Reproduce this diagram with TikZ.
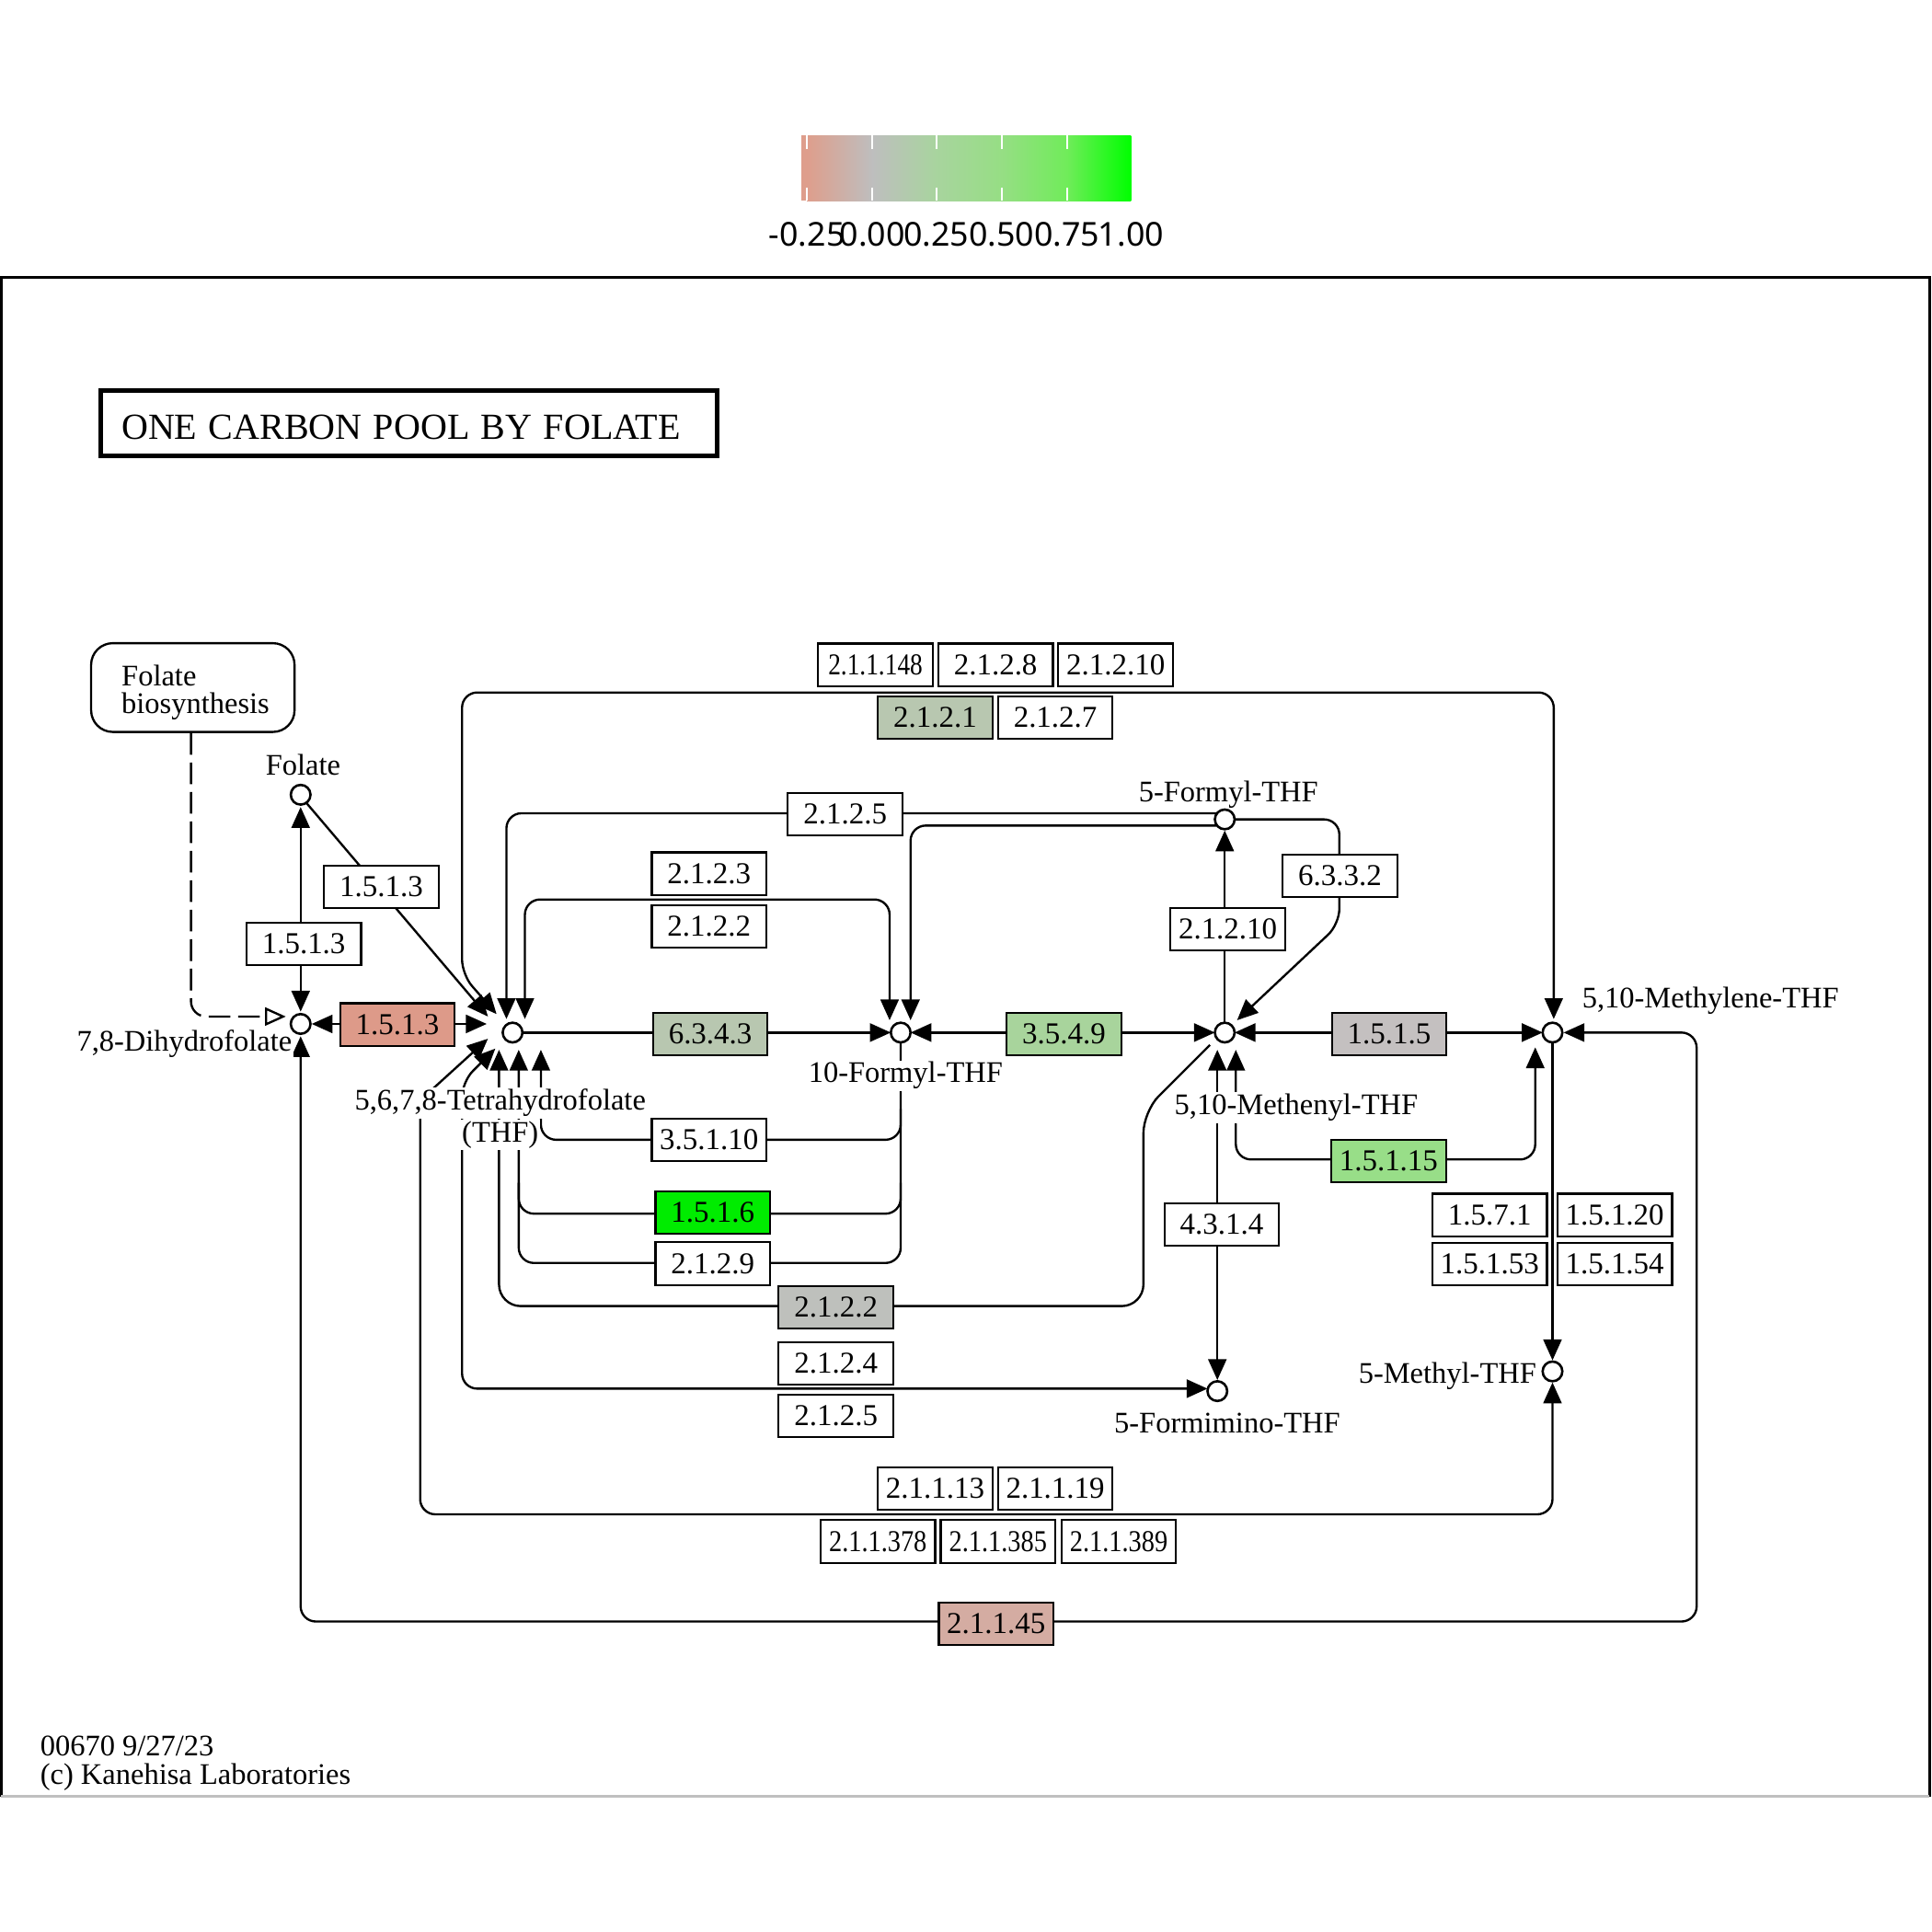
\documentclass[tikz,border=0pt]{standalone}
\usepackage{fontspec}
\setmainfont{Liberation Serif}
\newfontfamily\barfont{Noto Sans}
\usepackage{graphicx}
\usetikzlibrary{arrows.meta,calc}
\definecolor{csal}{RGB}{221,154,137}
\definecolor{cpink}{RGB}{212,172,162}
\definecolor{cgg}{RGB}{184,199,176}
\definecolor{clg}{RGB}{168,212,156}
\definecolor{cgray}{RGB}{196,192,192}
\definecolor{cgray2}{RGB}{190,192,188}
\definecolor{cl15}{RGB}{152,222,136}
\definecolor{cbright}{RGB}{0,236,0}
\definecolor{cbsal}{RGB}{222,158,140}
\definecolor{cbgray}{RGB}{190,190,190}
\definecolor{cbg1}{RGB}{168,212,158}
\definecolor{cbg2}{RGB}{150,222,132}
\definecolor{cbg3}{RGB}{112,236,90}
\definecolor{cbg4}{RGB}{0,255,0}
\newcommand\lblfont{\fontsize{6.9pt}{7.6pt}\selectfont}
\newcommand\enzfont{\fontsize{7pt}{8pt}\selectfont}
\newcommand\footfont{\fontsize{6.9pt}{6.5pt}\selectfont}
\newcommand\titlefont{\fontsize{8.5pt}{10pt}\selectfont}
\newcommand\barfnt{\barfont\fontsize{7.6pt}{9pt}\selectfont}
\begin{document}
\begin{tikzpicture}[x=0.01cm,y=-0.01cm,
  ln/.style={line width=0.5pt},
  arr/.style={ln,-{Triangle[length=4.8pt,width=4.2pt]}},
  barr/.style={ln,{Triangle[length=4.8pt,width=4.2pt]}-{Triangle[length=4.8pt,width=4.2pt]}},
  rc/.style={rounded corners=3.5pt},
  enz/.style={draw,line width=0.45pt,fill=white,minimum width=0.93cm,minimum height=0.345cm,inner sep=0pt,font=\enzfont},
  cpd/.style={circle,draw,line width=0.55pt,fill=white,minimum size=0.16cm,inner sep=0pt},
  lbl/.style={font=\lblfont,fill=white,inner sep=0.4pt},
  dsh/.style={line width=0.5pt,dash pattern=on 5pt off 1.8pt}]
\useasboundingbox (0,0) rectangle (1568,1568);

% ---------- colour bar ----------
\fill[cbsal] (650,110) rectangle (655,163);
\shade[left color=cbsal,right color=cbgray] (655,110) rectangle (708,163);
\shade[left color=cbgray,right color=cbg1] (708,110) rectangle (760,163);
\shade[left color=cbg1,right color=cbg2] (760,110) rectangle (813,163);
\shade[left color=cbg2,right color=cbg3] (813,110) rectangle (866,163);
\shade[left color=cbg3,right color=cbg4] (866,110) rectangle (918,163);
\foreach \x in {655,708,760,813,866} {
  \draw[white,line width=0.5pt] (\x,110) -- (\x,121);
  \draw[white,line width=0.5pt] (\x,152) -- (\x,163);
}
\node[font=\barfnt,inner sep=0pt] (b1) at (655,190) {-0.25};
\node[font=\barfnt,inner sep=0pt] (b2) at (708,190) {0.00};
\node[font=\barfnt,inner sep=0pt] (b3) at (760,190) {0.25};
\node[font=\barfnt,inner sep=0pt] (b4) at (813,190) {0.50};
\node[font=\barfnt,inner sep=0pt] (b5) at (866,190) {0.75};
\node[font=\barfnt,inner sep=0pt] (b6) at (918,190) {1.00};

% ---------- frame ----------
\draw[line width=0.6pt] (1,1458) -- (1,225) -- (1566,225) -- (1566,1458);
\draw[black!25,line width=0.6pt] (1,1458) -- (1566,1458);

% ---------- title ----------
\node[draw,line width=1pt,minimum width=5cm,minimum height=0.53cm,inner sep=0pt] (title) at (332,343.5) {};
\node[font=\titlefont,anchor=west,inner sep=0pt] (ttxt) at (98,347) {ONE\hspace{0.5pt} CARBON\hspace{0.5pt} POOL\hspace{0.5pt} BY\hspace{0.5pt} FOLATE};

% ---------- folate biosynthesis ----------
\node[draw,line width=0.5pt,rounded corners=5pt,minimum width=1.65cm,minimum height=0.72cm,inner sep=0pt] (fbio) at (156.5,558) {};
\node[font=\footfont,align=left,anchor=west,inner sep=0pt] (fbiotxt) at (98,562) {Folate\\biosynthesis};

% ---------- compounds (coordinates) ----------
\coordinate (fol) at (244,645);
\coordinate (dhf) at (244,831);
\coordinate (thf) at (416,838);
\coordinate (tenf) at (731,838);
\coordinate (meny) at (994,838);
\coordinate (fivef) at (994,665);
\coordinate (mlene) at (1260,838);
\coordinate (mthf) at (1260,1113);
\coordinate (fimi) at (988,1129);

% ---------- connectors ----------
\draw[barr] ($(fol)+(0,10)$) -- ($(dhf)+(0,-10)$);
\draw[arr] ($(fol)+(5,7)$) -- ($(thf)+(-20,-13)$);
\draw[barr] ($(dhf)+(9,0)$) -- ($(thf)+(-21,-7)$);
\draw[dsh,rc,-{Triangle[open,length=4.8pt,width=4.2pt]}] ($(fbio.south)+(-1.5,0)$) -- (155,825) -- ($(dhf)+(-12,-6)$);
% top loop 2.1.1.148 ...
\draw[barr,rc] ($(thf)+(-13,-15)$) -- (375,791) -- (375,562) -- (1261,562) -- ($(mlene)+(1,-11)$);
% 2.1.2.5 upper
\draw[arr,rc] ($(fivef)+(-7,-5)$) -- (411,660) -- ($(thf)+(-5,-11)$);
% 5-formyl -> 10-formyl
\draw[arr,rc] ($(fivef)+(-7,5)$) -- (739,670) -- ($(tenf)+(8,-10)$);
% 2.1.2.3 / 2.1.2.2
\draw[barr,rc] ($(thf)+(10,-11)$) -- (426,730) -- (722,730) -- ($(tenf)+(-9,-10)$);
% 6.3.4.3
\draw[arr] (thf) -- ($(tenf)+(-8,0)$);
% 3.5.4.9
\draw[barr] ($(tenf)+(8,0)$) -- ($(meny)+(-8,0)$);
% 1.5.1.5
\draw[barr] ($(meny)+(8,0)$) -- ($(mlene)+(-8,0)$);
% 2.1.2.10 vertical
\draw[arr] (meny) -- ($(fivef)+(0,9)$);
% 6.3.3.2
\draw[arr,rc] (fivef) -- (1087,665) -- (1087,750) -- ($(meny)+(10,-10)$);
% methylene -> 5-methyl
\draw[arr] (mlene) -- ($(mthf)+(0,-9)$);
% 2.1.1.45
\draw[barr,rc] ($(mlene)+(9,0)$) -- (1377,838) -- (1377,1316) -- (244,1316) -- ($(dhf)+(0,10)$);
% 2.1.1.13
\draw[barr,rc] ($(mthf)+(0,9)$) -- (1260,1229) -- (341,1229) -- (341,893) -- ($(thf)+(-20,5)$);
% 2.1.2.4 / 2.1.2.5 lower
\draw[barr,rc] ($(fimi)+(-8,-2)$) -- (375,1127) -- (375,878) -- ($(thf)+(-14,13)$);
% 2.1.2.2 lower
\draw[arr,rounded corners=5pt] ($(meny)+(-12,10)$) -- (928,902) -- (928,1060) -- (405,1060) -- ($(thf)+(-11,14)$);
% 2.1.2.9 and 1.5.1.6
\draw[arr,rc] (tenf) -- (731,1025) -- (421,1025) -- ($(thf)+(5,14)$);
\draw[ln,rc] (421,960) -- (421,985) -- (731,985) -- (731,960);
% 3.5.1.10
\draw[arr,rc] (731,900) -- (731,925) -- (439,925) -- ($(thf)+(23,14)$);
% 1.5.1.15
\draw[barr,rc] ($(meny)+(9,14)$) -- (1003,941) -- (1246,941) -- ($(mlene)+(-14,12)$);
% 4.3.1.4
\draw[barr] ($(meny)+(-6,14)$) -- ($(fimi)+(0,-9)$);

% ---------- enzymes ----------
\node[enz] (e1) at (710.5,539.5) {\scalebox{0.83}[1]{2.1.1.148}};
\node[enz] (e2) at (808,539.5) {2.1.2.8};
\node[enz] (e3) at (905.5,539.5) {2.1.2.10};
\node[enz,fill=cgg] (e4) at (759,582.5) {2.1.2.1};
\node[enz] (e5) at (856.5,582.5) {2.1.2.7};
\node[enz] (e6) at (686,661) {2.1.2.5};
\node[enz] (e7) at (575.5,709) {2.1.2.3};
\node[enz] (e8) at (575.5,752) {2.1.2.2};
\node[enz] (e9) at (309.5,720) {1.5.1.3};
\node[enz] (e10) at (246.5,766) {1.5.1.3};
\node[enz,fill=csal] (e11) at (322.5,831.5) {1.5.1.3};
\node[enz,fill=cgg] (e12) at (576.5,839) {6.3.4.3};
\node[enz,fill=clg] (e13) at (863.5,839) {3.5.4.9};
\node[enz,fill=cgray] (e14) at (1127.5,839) {1.5.1.5};
\node[enz] (e15) at (996.5,754) {2.1.2.10};
\node[enz] (e16) at (1087.5,711) {6.3.3.2};
\node[enz] (e17) at (575.5,925) {3.5.1.10};
\node[enz,fill=cbright] (e18) at (578.5,984) {1.5.1.6};
\node[enz] (e19) at (578.5,1025.5) {2.1.2.9};
\node[enz,fill=cgray2] (e20) at (678.5,1061) {2.1.2.2};
\node[enz] (e21) at (678.5,1106.5) {2.1.2.4};
\node[enz] (e22) at (678.5,1149) {2.1.2.5};
\node[enz,fill=cl15] (e23) at (1127,942.5) {1.5.1.15};
\node[enz] (e24) at (991.5,994) {4.3.1.4};
\node[enz] (e25) at (1209,986) {1.5.7.1};
\node[enz] (e26) at (1310.5,986) {1.5.1.20};
\node[enz] (e27) at (1209,1026) {1.5.1.53};
\node[enz] (e28) at (1310.5,1026) {1.5.1.54};
\node[enz] (e29) at (759,1208) {2.1.1.13};
\node[enz] (e30) at (856.5,1208) {2.1.1.19};
\node[enz] (e31) at (712.5,1251) {\scalebox{0.86}[1]{2.1.1.378}};
\node[enz] (e32) at (810,1251) {\scalebox{0.86}[1]{2.1.1.385}};
\node[enz] (e33) at (908,1251) {\scalebox{0.86}[1]{2.1.1.389}};
\node[enz,fill=cpink] (e34) at (808.5,1318) {2.1.1.45};

% ---------- compound labels ----------
\node[lbl] (lfol) at (246,621) {Folate};
\node[lbl,anchor=east] (ldhf) at (239,847) {7,8-Dihydrofolate};
\node[lbl] (lthf1) at (406,895) {5,6,7,8-Tetrahydrofolate};
\node[lbl] (lthf2) at (406,921) {(THF)};
\node[lbl] (ltenf) at (735,873) {10-Formyl-THF};
\node[lbl] (lfivef) at (997,645) {5-Formyl-THF};
\node[lbl] (lmeny) at (1052,899) {5,10-Methenyl-THF};
\node[lbl,anchor=west] (lmlene) at (1282,812) {5,10-Methylene-THF};
\node[lbl,anchor=east] (lmthf) at (1249,1117) {5-Methyl-THF};
\node[lbl] (lfimi) at (996,1155) {5-Formimino-THF};

% ---------- compound circles ----------
\foreach \c in {fol,dhf,thf,tenf,meny,fivef,mlene,mthf,fimi}
  \node[cpd] (c-\c) at (\c) {};

% ---------- footer ----------
\node[font=\footfont,align=left,anchor=west,inner sep=0pt] (foot) at (32,1431) {00670 9/27/23\\(c) Kanehisa Laboratories};
\end{tikzpicture}
\end{document}
